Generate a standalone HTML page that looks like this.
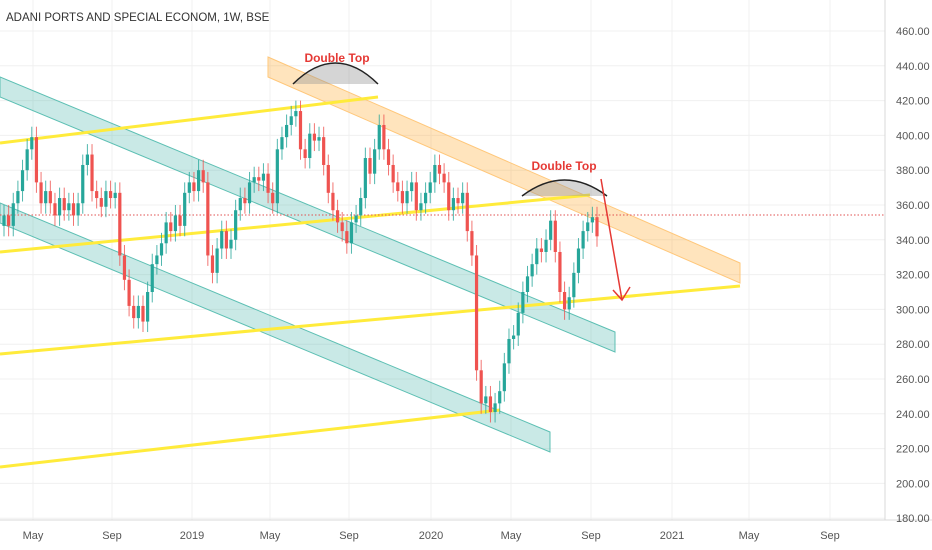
<!DOCTYPE html>
<html><head><meta charset="utf-8"><style>
body{margin:0;background:#fff;font-family:"Liberation Sans",sans-serif}
svg{display:block}
</style></head><body>
<svg width="932" height="550" id="c">
<rect width="932" height="550" fill="#fff"/>
<g id="grid"></g>
<g id="drawings-back"></g>
<g id="candles"></g>
<g id="drawings-front"></g>
<line x1="885" y1="0" x2="885" y2="520" stroke="#d8d8d8"/>
<line x1="0" y1="520" x2="932" y2="520" stroke="#d8d8d8"/>
<g id="axes"></g>
<text x="6" y="21" font-size="11.5" fill="#333">ADANI PORTS AND SPECIAL ECONOM, 1W, BSE</text>
</svg>
<script>
const closes=[354,348,361,368,380,392,399,373,361,368,361,354,364,357,361,354,361,383,389,368,364,359,368,364,367,331,317,302,295,302,293,310,326,331,338,350,345,354,348,367,373,368,380,373,331,321,335,345,335,340,357,364,361,373,376,374,378,367,361,392,399,406,411,414,392,387,401,397,399,383,367,357,350,345,338,350,354,364,387,378,392,406,392,383,373,368,361,368,373,357,361,367,373,383,378,373,357,364,361,367,345,331,265,246,250,241,246,253,269,283,285,298,310,319,326,335,333,340,351,333,310,300,307,321,335,345,350,353,342];
const firstOpen=348;
const priceTicks=[460,440,420,400,380,360,340,320,300,280,260,240,220,200,180];
const timeLabels=["May","Sep","2019","May","Sep","2020","May","Sep","2021","May","Sep"];
const timeLabelX=[33,112,192,270,349,431,511,591,672,749,830];
const NS="http://www.w3.org/2000/svg";
function yOf(p){return 31+(460-p)*1.74;}
function xOf(i){return 4+i*(593/(closes.length-1));}
function mk(tag,attrs,parent){const e=document.createElementNS(NS,tag);for(const k in attrs)e.setAttribute(k,attrs[k]);document.getElementById(parent).appendChild(e);return e;}
priceTicks.forEach(p=>{
  const g=mk('line',{x1:0,x2:885,y1:yOf(p),y2:yOf(p),stroke:'#f0f0f0'},'grid');
  
  
  const t=mk('text',{x:896,y:yOf(p)+4,'font-size':11,fill:'#555'},'axes');
  t.textContent=p.toFixed(2);
  
  
});
timeLabels.forEach((l,i)=>{
  const g=mk('line',{x1:timeLabelX[i],x2:timeLabelX[i],y1:0,y2:520,stroke:'#f0f0f0'},'grid');
  
  
  const t=mk('text',{x:timeLabelX[i],y:539,'font-size':11,fill:'#555','text-anchor':'middle'},'axes');
  t.textContent=l;
  
  
});
const B='drawings-back';
function poly(pts,fill,stroke,name){const e=mk('polygon',{points:pts,fill:fill,stroke:stroke,'stroke-width':1},B);}
poly("0,77 615,332 615,352 0,97","rgba(38,166,154,0.25)","#5cbfb3",'parallel-channel-upper');
poly("0,203 550,432 550,452 0,223","rgba(38,166,154,0.25)","#5cbfb3",'parallel-channel-lower');
poly("268,57 740,263 740,283 268,77","rgba(255,167,38,0.3)","#ffc77a",'parallel-channel-orange');
function yl(x1,y1,x2,y2,name){const e=mk('line',{x1,y1,x2,y2,stroke:'#ffeb3b','stroke-width':3},B);}
yl(0,143,378,97,'trendline-1');yl(0,252,590,195,'trendline-2');yl(0,354,740,286,'trendline-3');yl(0,467,500,410,'trendline-4');
const dl=mk('line',{x1:0,x2:885,y1:215,y2:215,stroke:'#e05050','stroke-width':1,'stroke-dasharray':'1.5,2'},B);


let prev=firstOpen;
closes.forEach((c,i)=>{
  const o=prev;prev=c;
  const up=c>=o;const col=up?'#26a69a':'#ef5350';
  const x=xOf(i);
  const hi=Math.max(o,c)+6,lo=Math.min(o,c)-6;
  const w=mk('line',{x1:x,x2:x,y1:yOf(hi),y2:yOf(lo),stroke:col,'stroke-width':1,opacity:0.8},'candles');
  
  
  const top=yOf(Math.max(o,c)),bot=yOf(Math.min(o,c));
  const r=mk('rect',{x:x-1.6,y:top,width:3.2,height:Math.max(1,bot-top),fill:col},'candles');
  
  
});
const F='drawings-front';
function arc(x1,x2,ytop,yb,name){const cx=(x1+x2)/2;const e=mk('path',{d:`M${x1},${yb} Q${cx},${2*ytop-yb} ${x2},${yb} Z`,fill:'rgba(150,150,150,0.4)',stroke:'none'},F);
const s=mk('path',{d:`M${x1},${yb} Q${cx},${2*ytop-yb} ${x2},${yb}`,fill:'none',stroke:'#222','stroke-width':1.5},F);}
arc(293,378,63,84,'double-top-arc-1');arc(522,607,180,196,'double-top-arc-2');
function lbl(x,y,name){const t=mk('text',{x,y,'font-size':12,'font-weight':'bold',fill:'#e53935','text-anchor':'middle'},F);t.textContent='Double Top';}
lbl(337,62,'double-top-label-1');lbl(564,170,'double-top-label-2');
const a=mk('path',{d:'M601,179 L622,300 M613,290 L622,300 L630,287',fill:'none',stroke:'#e53935','stroke-width':1.5},F);


</script>
</body></html>
